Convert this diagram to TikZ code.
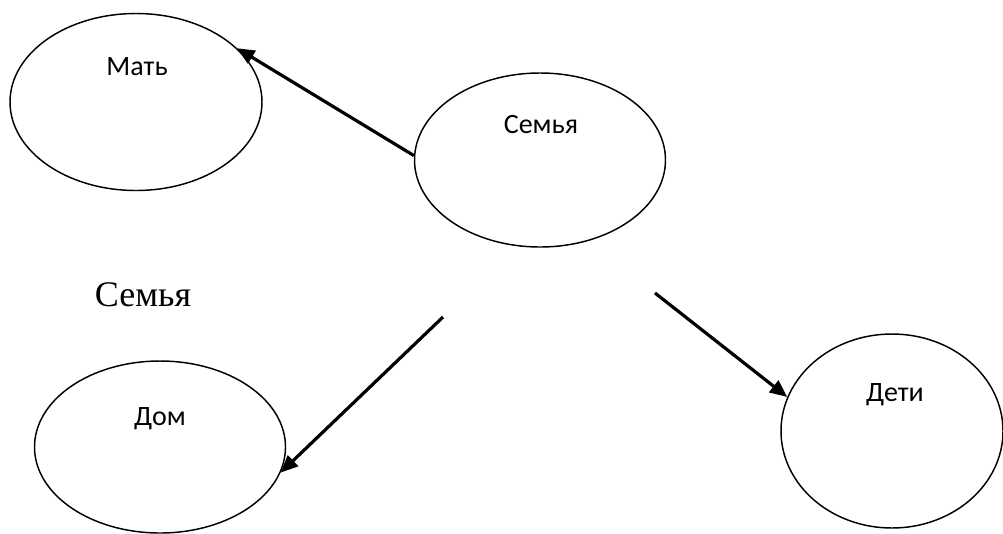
\documentclass[tikz,border=0pt]{standalone}
\usepackage{fontspec}
\setmainfont{Liberation Serif}
\setsansfont{Carlito}
\usetikzlibrary{shapes.geometric,arrows.meta}

\begin{document}
\begin{tikzpicture}[x=0.75pt,y=-0.75pt,
        oval/.style={ellipse,draw,line width=1.1pt,inner sep=0pt},
        word/.style={anchor=base,inner sep=0pt,font=\sffamily\fontsize{21}{25}\selectfont},
        link/.style={line width=2.4pt,-{Triangle[length=13pt,width=11pt]}}]

        \useasboundingbox (0,0) rectangle (1003,533);

        %ovals
        \node[oval,minimum width=189pt,minimum height=132.75pt] (mat) at (136,102) {};
        \node[oval,minimum width=188.25pt,minimum height=130.5pt] (sem) at (540,160) {};
        \node[oval,minimum width=188.25pt,minimum height=129pt] (dom) at (160,447) {};
        \node[oval,minimum width=166.5pt,minimum height=145.5pt] (deti) at (892,431) {};

        %labels
        \node[word] (matlbl) at (137,75) {Мать};
        \node[word] (semlbl) at (541,133) {Семья};
        \node[word] (domlbl) at (160,425) {Дом};
        \node[word] (detilbl) at (895,401) {Дети};

        %title
        \node[anchor=base,inner sep=0pt,font=\fontsize{27}{32}\selectfont] (title) at (143,306) {Семья};

        %free ends
        \coordinate (domstart) at (443,317);
        \coordinate (detistart) at (655,293);

        %arrows
        \draw[link] (sem.178) -- (mat.28);
        \draw[link] (domstart) -- (dom.-12);
        \draw[link] (detistart) -- (deti.162);

\end{tikzpicture}
\end{document}
